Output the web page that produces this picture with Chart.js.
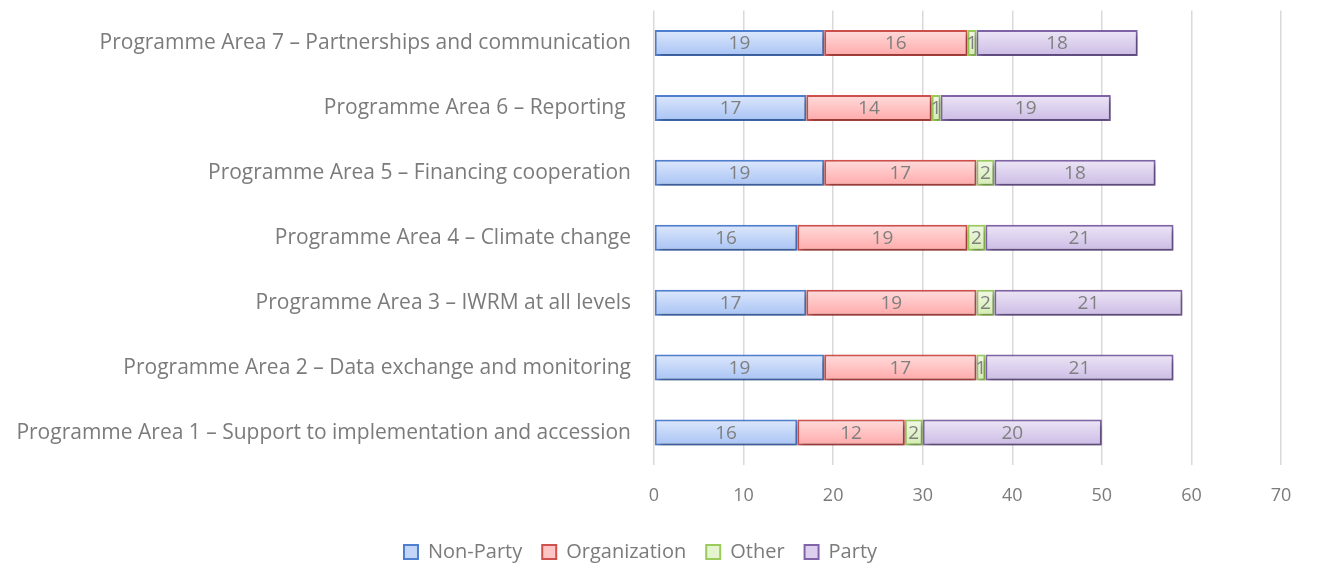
<!DOCTYPE html>
<html>
<head>
<meta charset="utf-8">
<script src="https://cdn.jsdelivr.net/npm/chart.js@4.4.1/dist/chart.umd.min.js"></script>
<style>
  body { margin: 0; background: #fff; }
  #wrap { width: 1319px; height: 564px; }
</style>
</head>
<body>
<div id="wrap"><canvas id="chart"></canvas></div>
<script>
// categories, top row first
const areas = [
    'Programme Area 7 – Partnerships and communication',
    'Programme Area 6 – Reporting ',
    'Programme Area 5 – Financing cooperation',
    'Programme Area 4 – Climate change',
    'Programme Area 3 – IWRM at all levels',
    'Programme Area 2 – Data exchange and monitoring',
    'Programme Area 1 – Support to implementation and accession'
];
const nonParty = [19, 17, 19, 16, 17, 19, 16];
const organization = [16, 14, 17, 19, 19, 17, 12];
const other = [1, 1, 2, 2, 2, 1, 2];
const party = [18, 19, 18, 21, 21, 21, 20];
const xTicks = [0, 10, 20, 30, 40, 50, 60, 70];

const FONT = '"Open Sans", Lato, sans-serif';
const TEXT = '#7b7b7b';

// colours per series: border, top of gradient, bottom of gradient
const styles = {
    'Non-Party': { border: '#4f7fd0', top: '#dde8fc', bottom: '#a8c3f4', legend: '#c4d6f8' },
    'Organization': { border: '#d0504d', top: '#ffdcdc', bottom: '#ffa9a9', legend: '#ffc4c4' },
    'Other': { border: '#9bcb5a', top: '#f1f9e6', bottom: '#d3edb0', legend: '#e4f4cf' },
    'Party': { border: '#8064a8', top: '#ede6f6', bottom: '#cbbbe5', legend: '#dcd0ee' }
};

function gradFor(name) {
    return function (ctx) {
        const chart = ctx.chart;
        const s = styles[name];
        const y = chart.scales && chart.scales.y;
        if (!y || ctx.dataIndex === undefined) return s.legend;
        const mid = y.getPixelForValue(ctx.dataIndex);
        const g = chart.ctx.createLinearGradient(0, mid - 13, 0, mid + 13);
        g.addColorStop(0, s.top);
        g.addColorStop(1, s.bottom);
        return g;
    };
}

function makeSet(name, data) {
    return {
        label: name,
        data: data,
        backgroundColor: gradFor(name),
        borderColor: styles[name].border,
        borderWidth: 2,
        borderSkipped: false,
        barPercentage: 0.8,
        categoryPercentage: 0.5
    };
}

// shadow under bars + value labels in the middle of each segment
const barExtras = {
    id: 'barExtras',
    beforeDatasetsDraw(chart) {
        const c = chart.ctx;
        c.save();
        c.shadowColor = 'rgba(0,0,0,0.35)';
        c.shadowBlur = 5;
        c.shadowOffsetX = 2;
        c.shadowOffsetY = 3;
    },
    afterDatasetsDraw(chart) {
        const c = chart.ctx;
        c.restore();
        c.save();
        c.font = '19px ' + FONT;
        c.fillStyle = '#7f7f7f';
        c.textAlign = 'center';
        c.textBaseline = 'middle';
        chart.data.datasets.forEach((ds, i) => {
            chart.getDatasetMeta(i).data.forEach((bar, j) => {
                const x = (bar.x + bar.base) / 2;
                c.fillText(String(ds.data[j]), x, bar.y + 1);
            });
        });
        c.restore();
    }
};

new Chart(document.getElementById('chart'), {
    type: 'bar',
    data: {
        labels: areas,
        datasets: [
            makeSet('Non-Party', nonParty),
            makeSet('Organization', organization),
            makeSet('Other', other),
            makeSet('Party', party)
        ]
    },
    options: {
        indexAxis: 'y',
        responsive: true,
        maintainAspectRatio: false,
        animation: false,
        layout: { padding: { top: 9, right: 38, left: 0, bottom: -8 } },
        scales: {
            x: {
                stacked: true,
                min: 0,
                max: 70,
                afterBuildTicks: s => { s.ticks = xTicks.map(v => ({ value: v })); },
                grid: { color: '#d9d9d9', lineWidth: 1.5, drawTicks: false },
                border: { display: false },
                ticks: { color: TEXT, font: { family: FONT, size: 18 }, padding: 20 },
                afterFit: s => { s.height = 57; }
            },
            y: {
                stacked: true,
                grid: { display: false, drawTicks: true, tickLength: 23 },
                border: { display: false },
                ticks: { color: TEXT, font: { family: FONT, size: 21, lineHeight: 1 }, padding: 0 },
                afterFit: s => { s.width = 654; }
            }
        },
        plugins: {
            tooltip: { enabled: false },
            legend: {
                position: 'bottom',
                labels: {
                    color: TEXT,
                    font: { family: FONT, size: 20, lineHeight: 1 },
                    boxWidth: 14,
                    boxHeight: 14,
                    padding: 20,
                    generateLabels: chart => chart.data.datasets.map((ds, i) => ({
                        text: ds.label,
                        fillStyle: styles[ds.label].legend,
                        strokeStyle: styles[ds.label].border,
                        lineWidth: 2,
                        fontColor: TEXT,
                        datasetIndex: i
                    }))
                }
            }
        }
    },
    plugins: [barExtras]
});
</script>
</body>
</html>
